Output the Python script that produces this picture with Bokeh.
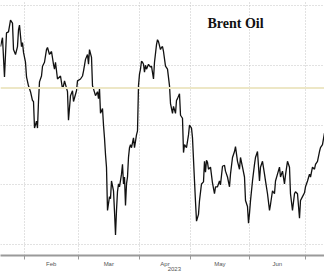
from bokeh.plotting import figure
from bokeh.models import FixedTicker, Span, Label, Range1d
from bokeh.embed import file_html
from bokeh.resources import INLINE

# trading-day index (Jan 2023 = day 0) and Brent price
day = [12.03, 12.78, 13.52, 14.27, 15.02, 15.77, 16.51, 16.89, 17.64, 18.38,
       18.76, 19.13, 19.88, 20.25, 20.63, 21.37, 21.75, 22.49, 23.24, 23.99,
       24.36, 24.74, 25.48, 25.86, 26.23, 26.60, 27.35, 27.73, 28.47, 29.22,
       29.59, 30.34, 31.09, 31.84, 32.21, 32.58, 33.33, 34.45, 35.20, 35.57,
       35.95, 37.07, 37.44, 38.19, 38.94, 39.31, 40.43, 40.80, 41.93, 42.67,
       43.05, 43.79, 44.54, 44.92, 45.29, 46.04, 46.41, 46.78, 47.53, 48.28,
       48.65, 49.03, 49.40, 50.15, 50.52, 50.89, 51.27, 51.64, 52.02, 52.76,
       53.14, 53.51, 54.26, 54.63, 55.01, 55.38, 55.75, 56.13, 56.50, 57.25,
       57.62, 58.00, 58.37, 58.74, 59.12, 59.49, 59.86, 60.24, 60.61, 60.99,
       61.73, 62.11, 62.85, 63.23, 63.60, 63.97, 64.35, 64.72, 65.10, 65.47,
       65.84, 66.22, 66.59, 67.34, 68.09, 68.46, 69.21, 69.58, 70.33, 70.70,
       71.07, 71.82, 72.20, 72.57, 72.94, 73.69, 74.44, 75.19, 75.56, 76.31,
       76.68, 77.43, 77.80, 78.17, 78.92, 79.30, 80.04, 80.42, 80.79, 81.54,
       82.29, 82.66, 83.41, 83.78, 84.53, 84.90, 85.28, 86.02, 86.40, 87.14,
       87.89, 88.26, 88.64, 89.01, 89.39, 89.76, 90.51, 91.25, 92.00, 92.38,
       93.12, 93.87, 94.24, 94.99, 95.74, 96.11, 96.86, 97.61, 97.98, 98.73,
       99.48, 99.85, 100.60, 101.34, 101.72, 102.47, 103.21, 103.59, 104.33, 104.71,
       105.08, 105.46, 106.20, 106.95, 107.32, 108.07, 108.82, 109.19, 109.94, 110.69,
       111.06, 111.81, 112.56, 112.93, 113.68, 114.42, 114.80, 115.54, 116.29, 116.67,
       117.41, 118.16, 118.53, 119.28, 120.03, 120.40, 121.15, 121.90, 122.27, 123.02,
       123.77, 124.14, 124.89, 125.63, 126.01, 126.76, 127.50, 127.88, 128.62, 129.37,
       129.75, 130.49, 131.24, 131.61, 132.36, 133.11]

price = [86.56, 87.30, 84.02, 87.70, 87.79, 88.77, 88.52, 86.31, 85.90, 86.56,
         87.95, 88.36, 86.56, 86.89, 86.07, 85.25, 84.02, 83.28, 82.79, 82.05,
         81.97, 79.75, 80.33, 79.75, 81.97, 83.61, 84.10, 84.92, 85.25, 86.31,
         86.48, 85.90, 86.15, 85.08, 84.67, 85.25, 83.85, 84.10, 83.03, 83.28,
         83.69, 82.79, 80.41, 82.46, 82.87, 81.97, 82.87, 83.69, 83.85, 84.10,
         84.51, 85.49, 85.90, 85.08, 86.31, 85.66, 83.28, 83.03, 82.46, 82.79,
         82.21, 83.03, 80.98, 81.39, 80.00, 78.93, 77.54, 76.48, 72.87, 74.02,
         73.85, 75.33, 74.51, 72.79, 70.82, 72.87, 74.43, 75.08, 74.84, 75.90,
         76.72, 75.08, 75.66, 73.28, 75.08, 75.66, 77.29, 78.11, 78.36, 78.11,
         78.93, 78.11, 79.18, 79.51, 83.28, 84.26, 84.67, 85.33, 85.25, 85.08,
         84.43, 85.00, 84.67, 85.08, 84.84, 84.92, 83.85, 85.25, 86.72, 87.13,
         86.97, 86.31, 86.48, 86.56, 86.15, 84.92, 84.67, 83.28, 81.80, 80.98,
         81.56, 80.98, 82.05, 82.21, 82.62, 80.82, 80.57, 77.70, 78.36, 78.11,
         79.18, 80.00, 79.75, 78.93, 75.33, 73.61, 71.97, 72.54, 73.69, 75.08,
         75.25, 76.97, 76.06, 77.05, 76.88, 76.31, 76.48, 75.16, 74.26, 74.84,
         74.84, 75.33, 75.00, 76.56, 76.64, 76.15, 75.66, 74.84, 75.90, 77.29,
         77.79, 78.20, 76.97, 76.31, 77.29, 76.48, 75.66, 73.69, 73.20, 71.80,
         72.62, 73.69, 75.33, 76.72, 77.29, 77.79, 75.33, 76.48, 76.97, 75.90,
         75.33, 74.26, 72.87, 73.36, 74.51, 74.26, 75.33, 75.90, 76.48, 75.66,
         76.15, 75.08, 75.82, 76.97, 76.48, 74.26, 72.87, 74.26, 74.43, 74.26,
         72.21, 73.69, 74.02, 74.34, 74.84, 75.33, 75.90, 75.66, 76.48, 76.31,
         76.72, 76.97, 77.79, 78.11, 78.36, 79.34]

month_starts = [0, 21, 41, 64, 83, 105, 126]
month_mids = [10.5, 31, 52.5, 73.5, 94, 115.5]
month_names = ["Jan", "Feb", "Mar", "Apr", "May", "Jun"]
year_pos = 77.0
year_text = "2023"
price_grid = [70, 75, 80, 85, 90]
ref_level = 83.1
title_text = "Brent Oil"

p = figure(width=324, height=274,
           x_range=Range1d(12.03, 133.11), y_range=Range1d(69.1, 90.41),
           output_backend="svg", toolbar_location=None,
           y_axis_location=None,
           min_border_left=0, min_border_right=0, min_border_top=0, min_border_bottom=0)
p.outline_line_color = None
p.background_fill_color = "white"
p.border_fill_color = "white"

labels = {m: n for m, n in zip(month_mids, month_names)}
labels[year_pos] = "\n" + year_text

ax = p.xaxis[0]
ax.ticker = FixedTicker(ticks=month_mids + [year_pos], minor_ticks=month_starts)
ax.major_label_overrides = labels
ax.major_tick_line_color = None
ax.major_tick_out = 0
ax.major_tick_in = 0
ax.minor_tick_in = 0
ax.minor_tick_out = 4
ax.minor_tick_line_color = "#9a9a9a"
ax.axis_line_color = "#9a9a9a"
ax.axis_line_width = 2
ax.major_label_text_font = "Liberation Sans"
ax.major_label_text_font_size = "6px"
ax.major_label_text_color = "#555555"
ax.major_label_text_line_height = 0.9
ax.major_label_standoff = 1

p.xgrid.ticker = FixedTicker(ticks=month_starts)
p.ygrid.ticker = FixedTicker(ticks=price_grid)
for g in (p.xgrid, p.ygrid):
    g.grid_line_color = "#c4c4c4"
    g.grid_line_dash = "1 2"
    g.grid_line_width = 1

p.add_layout(Span(location=ref_level, dimension="width",
                  line_color="#ede7c6", line_width=2))

p.line(day, price, line_color="#111111", line_width=1.3)

p.add_layout(Label(x=99.85, y=88.52, text=title_text,
                   text_font="Liberation Serif", text_font_style="bold",
                   text_font_size="14px", text_color="#111111",
                   text_align="center", text_baseline="middle"))

open("out.html", "w").write(file_html(p, INLINE))
